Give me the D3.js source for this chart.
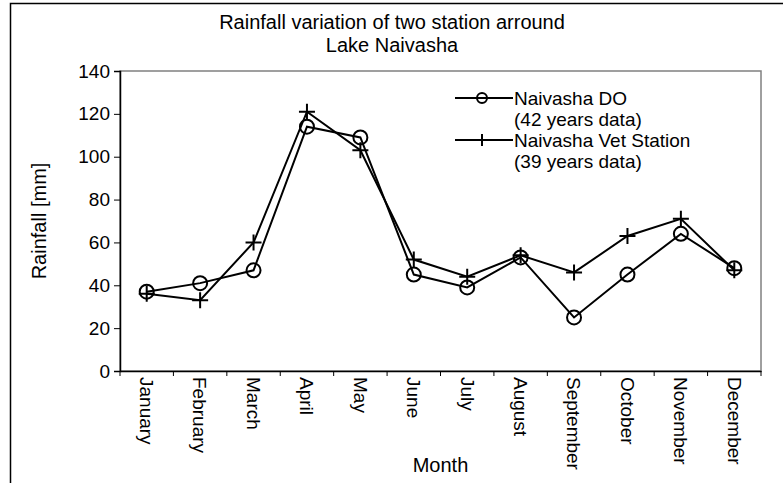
<!DOCTYPE html>
<html>
<head>
<meta charset="utf-8">
<script src="https://cdn.jsdelivr.net/npm/d3@7"></script>
<style>
	body { margin: 0; background: #fff; }
	svg text { font-family: 'Liberation Sans', Arial, sans-serif; fill: #000; }
</style>
</head>
<body>
<div id="chart"></div>
<script>
const months = ['January', 'February', 'March', 'April', 'May', 'June', 'July',
	'August', 'September', 'October', 'November', 'December'];
// Naivasha DO, 42 years data (mm)
const doValues = [37, 41, 47, 114, 109, 45, 39, 53, 25, 45, 64, 48];
// Naivasha Vet Station, 39 years data (mm)
const vetValues = [36, 33, 60, 121, 103, 52, 44, 54, 46, 63, 71, 47];
const yTicks = [0, 20, 40, 60, 80, 100, 120, 140];

const width = 783, height = 483;
const margin = { top: 71, left: 120, right: 22, bottom: 112 };
const qw = width - margin.left - margin.right;
const qh = height - margin.top - margin.bottom;

const svg = d3.select('#chart').append('svg')
	.attr('width', width)
	.attr('height', height);

// outer chart frame (cut off at the right and bottom)
svg.append('rect')
	.attr('x', 10.5).attr('y', 3.5)
	.attr('width', 800).attr('height', 500)
	.attr('fill', 'none').attr('stroke', '#000').attr('stroke-width', 1.5);

svg.append('text')
	.attr('x', 392).attr('y', 29)
	.attr('text-anchor', 'middle').style('font-size', '20px')
	.text('Rainfall variation of two station arround');
svg.append('text')
	.attr('x', 392).attr('y', 52)
	.attr('text-anchor', 'middle').style('font-size', '20px')
	.text('Lake Naivasha');

const x = d3.scaleBand().domain(months).range([0, qw]);
const y = d3.scaleLinear().domain([0, 140]).range([qh, 0]);

const g = svg.append('g')
	.attr('transform', `translate(${margin.left},${margin.top})`);

// plot area border
g.append('rect')
	.attr('width', qw).attr('height', qh)
	.attr('fill', 'none').attr('stroke', '#808080').attr('stroke-width', 1.5);

// y axis
const yAxis = g.append('g')
	.call(d3.axisLeft(y).tickValues(yTicks).tickSize(6).tickPadding(4));
yAxis.selectAll('text').style('font-size', '19px');

// x axis: ticks at category boundaries
const xAxis = g.append('g')
	.attr('transform', `translate(0,${qh})`)
	.call(d3.axisBottom(x).tickSize(0).tickPadding(0));
xAxis.selectAll('.tick text')
	.attr('transform', 'rotate(90)')
	.attr('x', 6).attr('y', 0).attr('dy', '0.35em')
	.style('text-anchor', 'start')
	.style('font-size', '19px');
xAxis.selectAll('.bound')
	.data(d3.range(months.length + 1))
	.join('line')
	.attr('class', 'bound')
	.attr('x1', i => i * x.step()).attr('x2', i => i * x.step())
	.attr('y1', 0).attr('y2', 5)
	.attr('stroke', '#000');
g.selectAll('.domain').attr('stroke', '#000').attr('stroke-width', 1.5);

// axis titles
svg.append('text')
	.attr('transform', `translate(46,${margin.top + qh / 2}) rotate(-90)`)
	.attr('text-anchor', 'middle').style('font-size', '20px')
	.text('Rainfall [mm]');
svg.append('text')
	.attr('x', margin.left + qw / 2).attr('y', 472)
	.attr('text-anchor', 'middle').style('font-size', '20px')
	.text('Month');

const cx = (d, i) => x(months[i]) + x.bandwidth() / 2;
const line = d3.line().x((d, i) => cx(d, i)).y(d => y(d));

g.append('path').datum(doValues)
	.attr('d', line).attr('fill', 'none').attr('stroke', '#000').attr('stroke-width', 2);
g.append('path').datum(vetValues)
	.attr('d', line).attr('fill', 'none').attr('stroke', '#000').attr('stroke-width', 2);

g.selectAll('.circ').data(doValues).join('circle')
	.attr('class', 'circ')
	.attr('cx', cx).attr('cy', d => y(d)).attr('r', 7)
	.attr('fill', 'none').attr('stroke', '#000').attr('stroke-width', 2);

g.selectAll('.plus').data(vetValues).join('path')
	.attr('class', 'plus')
	.attr('transform', (d, i) => `translate(${cx(d, i)},${y(d)})`)
	.attr('d', 'M-8,0H8M0,-8V8')
	.attr('fill', 'none').attr('stroke', '#000').attr('stroke-width', 2);

// legend
const legend = svg.append('g').attr('transform', 'translate(455,0)');
legend.append('line').attr('x1', 0).attr('x2', 58).attr('y1', 98).attr('y2', 98)
	.attr('stroke', '#000').attr('stroke-width', 2);
legend.append('circle').attr('cx', 27).attr('cy', 98).attr('r', 5)
	.attr('fill', 'none').attr('stroke', '#000').attr('stroke-width', 2);
legend.append('line').attr('x1', 0).attr('x2', 58).attr('y1', 140).attr('y2', 140)
	.attr('stroke', '#000').attr('stroke-width', 2);
legend.append('path').attr('d', 'M27,134V146')
	.attr('stroke', '#000').attr('stroke-width', 2);

const legendLines = [
	['Naivasha DO', 105], ['(42 years data)', 126],
	['Naivasha Vet Station', 147], ['(39 years data)', 168]
];
legend.selectAll('.lt').data(legendLines).join('text')
	.attr('class', 'lt')
	.attr('x', 59).attr('y', d => d[1])
	.style('font-size', '19px')
	.text(d => d[0]);
</script>
</body>
</html>
